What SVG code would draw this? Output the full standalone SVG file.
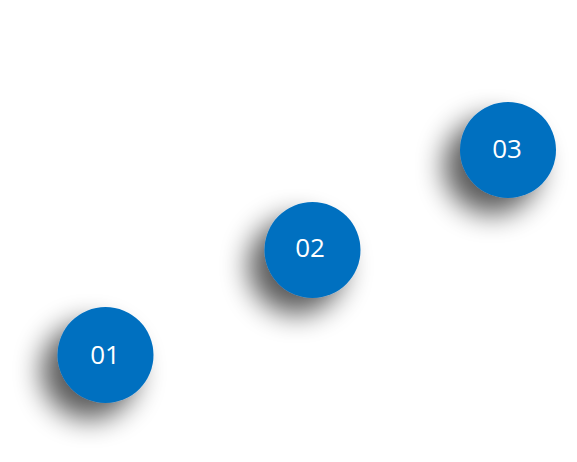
<svg xmlns="http://www.w3.org/2000/svg" width="577" height="462" viewBox="0 0 577 462">
  <defs>
    <filter id="shadow" x="-80%" y="-80%" width="260%" height="260%">
      <feGaussianBlur in="SourceAlpha" stdDeviation="14"/>
      <feOffset dx="-16" dy="16" result="b"/>
      <feComponentTransfer><feFuncA type="linear" slope="0.65"/></feComponentTransfer>
      <feMerge><feMergeNode/><feMergeNode in="SourceGraphic"/></feMerge>
    </filter>
  </defs>
  <style>
    .c { fill: #0070C0; filter: url(#shadow); }
    .t { fill: #FFFFFF; font-family: "Open Sans", "Noto Sans", sans-serif; font-size: 26px; text-anchor: middle; dominant-baseline: central; }
  </style>
  <rect width="577" height="462" fill="#FFFFFF"/>
  <g id="connectors"></g>
  <g id="node01">
    <circle class="c" cx="105.5" cy="355" r="48"/>
    <text class="t" x="105" y="354">01</text>
  </g>
  <g id="node02">
    <circle class="c" cx="312.5" cy="250" r="48"/>
    <text class="t" x="310" y="247">02</text>
  </g>
  <g id="node03">
    <circle class="c" cx="508" cy="150" r="48"/>
    <text class="t" x="507" y="148">03</text>
  </g>
</svg>
